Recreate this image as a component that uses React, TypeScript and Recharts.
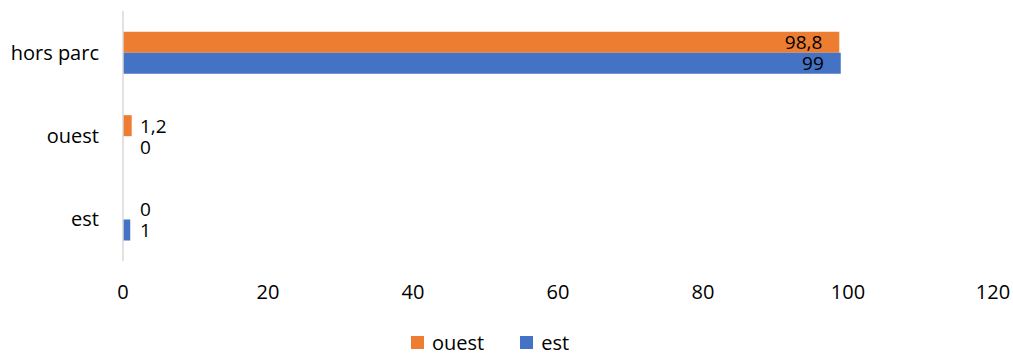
import { BarChart, Bar, XAxis, YAxis, Legend, Rectangle } from "recharts";

const categories = ["hors parc", "ouest", "est"];
const ouestValues = [98.8, 1.2, 0];
const estValues = [99, 0, 1];
const xTicks = [0, 20, 40, 60, 80, 100, 120];

const ORANGE = "#ED7D31";
const BLUE = "#4472C4";
const FONT = "'Open Sans', sans-serif";
const FS = 20;

const data = categories.map((name, i) => ({
  name,
  ouest: ouestValues[i],
  est: estValues[i],
}));

const fmt = (v: number) => String(v).replace(".", ",");

// eslint-disable-next-line @typescript-eslint/no-explicit-any
const renderLabel = (props: any) => {
  const { x, y, width, height, value } = props;
  if (value == null) return null;
  const cy = y + height / 2;
  const big = value > 50;
  return (
    <text
      x={big ? x + width - 17 : x + Math.max(width + 8, 17)}
      y={cy}
      textAnchor={big ? "end" : "start"}
      dominantBaseline="central"
      fill="#000"
      fontSize={19}
      fontFamily={FONT}
    >
      {fmt(value)}
    </text>
  );
};

// zero bars get a minimal size so their label is kept, but are not painted
// eslint-disable-next-line @typescript-eslint/no-explicit-any
const renderShape = (props: any) => {
  const v = Array.isArray(props.value) ? props.value[1] - props.value[0] : props.value;
  if (!v) return <g />;
  return <Rectangle {...props} />;
};

function LegendContent() {
  const items = [
    { label: "ouest", color: ORANGE },
    { label: "est", color: BLUE },
  ];
  return (
    <div style={{ display: "flex", alignItems: "center", fontFamily: FONT, fontSize: FS, color: "#000" }}>
      {items.map((it) => (
        <div key={it.label} style={{ display: "flex", alignItems: "center", marginRight: 36 }}>
          <span style={{ width: 13, height: 13, background: it.color, display: "inline-block", marginRight: 8 }} />
          <span style={{ lineHeight: "13px" }}>{it.label}</span>
        </div>
      ))}
    </div>
  );
}

export default function App() {
  return (
    <div style={{ width: 1013, height: 355, background: "#fff" }}>
      <style>{`body{margin:0}`}</style>
      <BarChart
        width={1013}
        height={355}
        data={data}
        layout="vertical"
        barCategoryGap="25%"
        barGap={0}
        margin={{ top: 11, right: 20, left: 0, bottom: 51 }}
      >
        <XAxis
          type="number"
          domain={[0, 120]}
          ticks={xTicks}
          axisLine={false}
          tickLine={false}
          tickMargin={18}
          tick={{ fill: "#000", fontSize: FS, fontFamily: FONT }}
        />
        <YAxis
          type="category"
          dataKey="name"
          width={123}
          axisLine={{ stroke: "#d9d9d9", strokeWidth: 1.5 }}
          tickLine={false}
          tickMargin={18}
          tick={{ fill: "#000", fontSize: FS, fontFamily: FONT }}
        />
        <Legend
          content={<LegendContent />}
          wrapperStyle={{ position: "absolute", top: 336, left: 411, width: 300 }}
        />
        <Bar dataKey="ouest" name="ouest" fill={ORANGE} minPointSize={1} shape={renderShape} isAnimationActive={false} label={renderLabel} />
        <Bar dataKey="est" name="est" fill={BLUE} minPointSize={1} shape={renderShape} isAnimationActive={false} label={renderLabel} />
      </BarChart>
    </div>
  );
}
